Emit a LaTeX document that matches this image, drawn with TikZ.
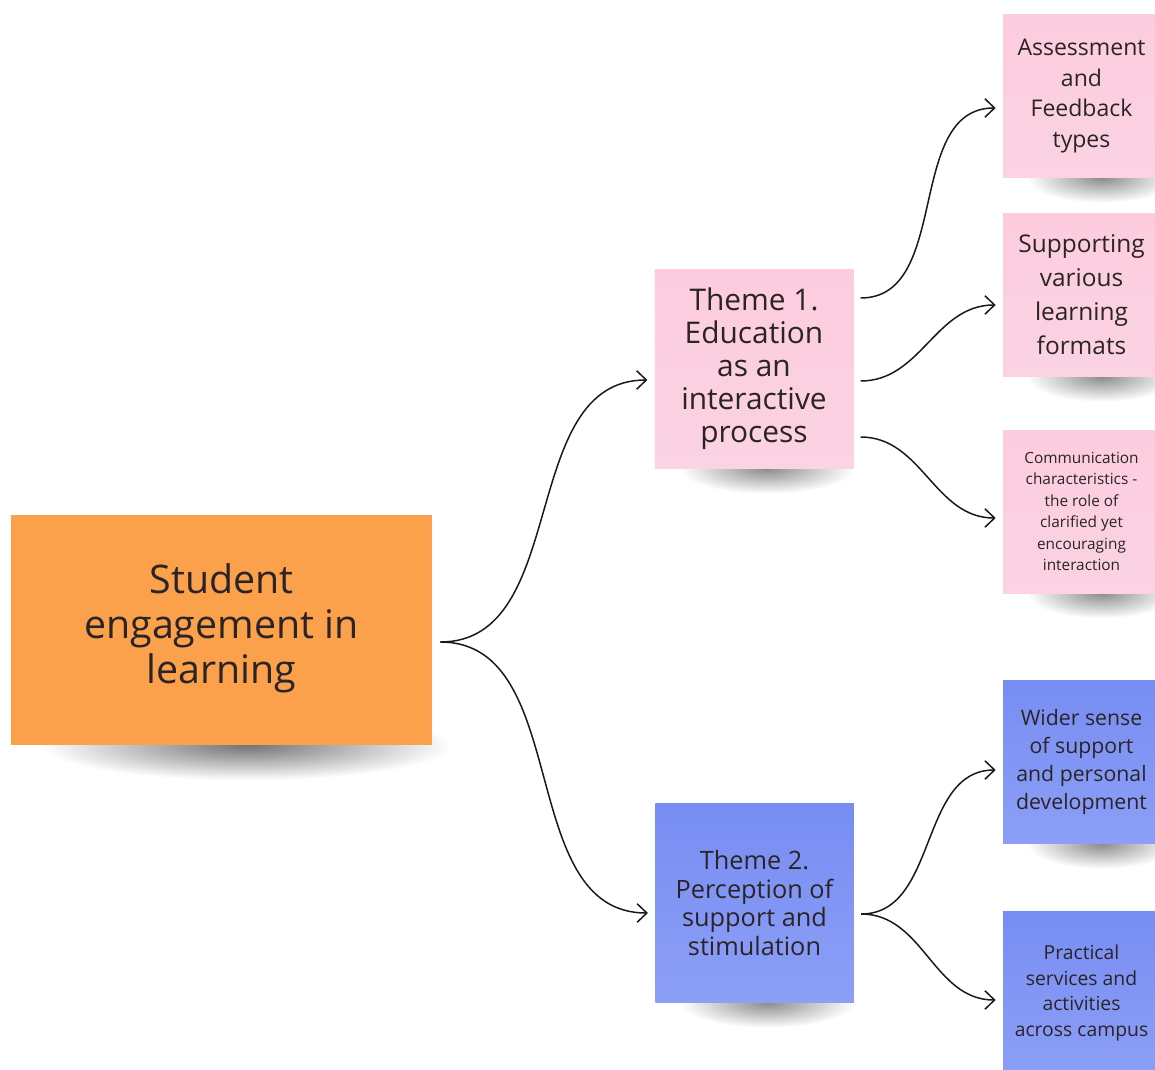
\documentclass[tikz,border=0pt]{standalone}
\usepackage{fontspec}
\setmainfont{Open Sans}
\usetikzlibrary{arrows.meta,calc,positioning,backgrounds}
\definecolor{stickyorange}{HTML}{FBA04B}
\definecolor{stickypink}{HTML}{FCCCDE}
\definecolor{stickypinklow}{HTML}{FBD3E3}
\definecolor{stickyblue}{HTML}{778DF2}
\definecolor{stickybluelow}{HTML}{8C9FF7}
\definecolor{notetext}{HTML}{2B2427}
\tikzset{
    note/.style={rectangle,inner sep=0pt,align=center,text=notetext},
    rootnote/.style={note,fill=stickyorange,minimum width=8.42cm,minimum height=4.6cm},
    themenote/.style={note,minimum width=3.97cm,minimum height=3.98cm},
    subnote/.style={note,minimum width=3.14cm,minimum height=3.26cm},
    pinknote/.style={top color=stickypink,bottom color=stickypinklow},
    bluenote/.style={top color=stickyblue,bottom color=stickybluelow},
    noteshadow/.style={inner color=black!#1,outer color=white},
    link/.style={draw=black!90,line width=0.85pt,-{Straight Barb[length=5.5pt,width=10.5pt]}}
}

\begin{document}
\begin{tikzpicture}
  \useasboundingbox (0,0) rectangle (23.1,-21.4);
  \clip (0,0) rectangle (23.1,-21.4);

  % sticky notes
  \node[rootnote,font=\fontsize{22.4pt}{25.6pt}\selectfont] (root) at (4.43,-12.6)
    {Student\\engagement in\\learning\\[-0.66cm]};
  \node[themenote,pinknote,font=\fontsize{17pt}{18.8pt}\selectfont] (t1) at (15.08,-7.38)
    {Theme 1.\\Education\\as an\\interactive\\process};
  \node[themenote,bluenote,font=\fontsize{14.4pt}{16.5pt}\selectfont] (t2) at (15.09,-18.06)
    {Theme 2.\\Perception of\\support and\\stimulation};

  \node[subnote,pinknote,font=\fontsize{13.1pt}{17.6pt}\selectfont] (a1) at (21.63,-1.92)
    {Assessment\\and\\Feedback\\types};
  \node[subnote,pinknote,font=\fontsize{13.9pt}{19.4pt}\selectfont] (a2) at (21.63,-5.90)
    {Supporting\\various\\learning\\formats};
  \node[subnote,pinknote,font=\fontsize{8.75pt}{12.2pt}\selectfont] (a3) at (21.63,-10.23)
    {Communication\\characteristics -\\the role of\\clarified yet\\encouraging\\interaction};
  \node[subnote,bluenote,font=\fontsize{12.1pt}{15.9pt}\selectfont] (b1) at (21.63,-15.24)
    {Wider sense\\of support\\and personal\\development};
  \node[subnote,bluenote,font=\fontsize{11pt}{14.6pt}\selectfont] (b2) at (21.63,-19.86)
    {Practical\\services and\\activities\\across campus};

  % shadows under the notes
  \begin{scope}[on background layer]
    \shade[noteshadow=55] ([xshift=0.5cm]root.south) ellipse [x radius=4.1cm,y radius=0.7cm];
    \foreach \n in {t1,t2}
      \shade[noteshadow=45] ([xshift=0.26cm]\n.south) ellipse [x radius=1.75cm,y radius=0.5cm];
    \foreach \n in {a1,a2,a3,b1,b2}
      \shade[noteshadow=45] ([xshift=0.4cm]\n.south) ellipse [x radius=1.5cm,y radius=0.5cm];
  \end{scope}

  % end points of the links
  \coordinate (rootout) at ([xshift=0.16cm,yshift=-0.24cm]root.east);
  \coordinate (t1outa) at ([xshift=0.14cm,yshift=1.42cm]t1.east);
  \coordinate (t1outb) at ([xshift=0.14cm,yshift=-0.24cm]t1.east);
  \coordinate (t1outc) at ([xshift=0.14cm,yshift=-1.36cm]t1.east);
  \coordinate (t2out) at ([xshift=0.14cm,yshift=-0.22cm]t2.east);

  % links
  \draw[link] (rootout) to[out=0,in=180] ([xshift=-0.14cm,yshift=-0.22cm]t1.west);
  \draw[link] (rootout) to[out=0,in=180] ([xshift=-0.14cm,yshift=-0.2cm]t2.west);
  \draw[link] (t1outa) to[out=0,in=180] ([xshift=-0.14cm,yshift=-0.24cm]a1.west);
  \draw[link] (t1outb) to[out=0,in=180] ([xshift=-0.14cm,yshift=-0.2cm]a2.west);
  \draw[link] (t1outc) to[out=0,in=180] ([xshift=-0.14cm,yshift=-0.13cm]a3.west);
  \draw[link] (t2out) to[out=0,in=180] ([xshift=-0.14cm,yshift=-0.16cm]b1.west);
  \draw[link] (t2out) to[out=0,in=180] ([xshift=-0.14cm,yshift=-0.14cm]b2.west);
\end{tikzpicture}
\end{document}
